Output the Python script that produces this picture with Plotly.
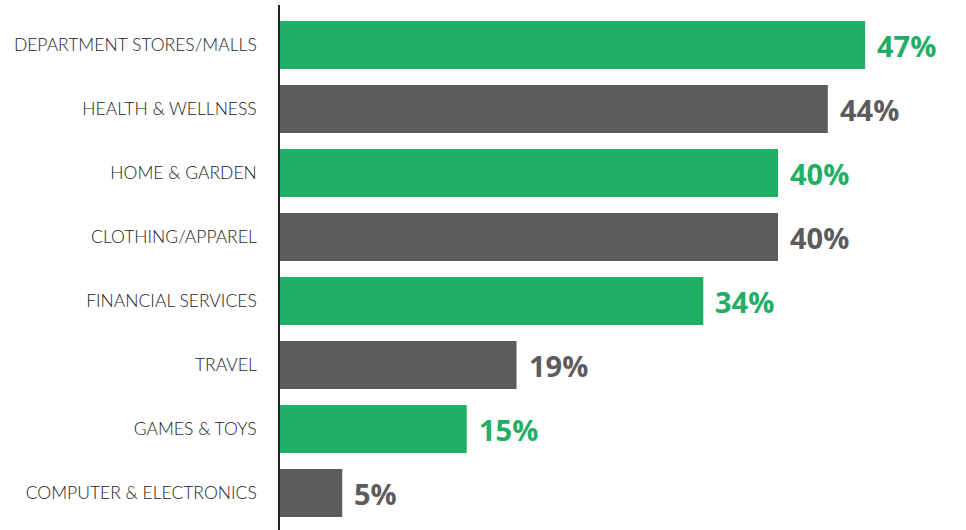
import plotly.graph_objects as go

categories = ["DEPARTMENT STORES/MALLS", "HEALTH & WELLNESS", "HOME & GARDEN",
              "CLOTHING/APPAREL", "FINANCIAL SERVICES", "TRAVEL", "GAMES & TOYS",
              "COMPUTER & ELECTRONICS"]
values = [47, 44, 40, 40, 34, 19, 15, 5]
labels = ["47%", "44%", "40%", "40%", "34%", "19%", "15%", "5%"]

GREEN = "#20AF64"
GRAY = "#5C5C5C"
colors = [GREEN if i % 2 == 0 else GRAY for i in range(len(categories))]

# plot bottom-to-top so first category is at top
cats_r = categories[::-1]
vals_r = values[::-1]
labs_r = labels[::-1]
cols_r = colors[::-1]

fig = go.Figure(go.Bar(
    y=cats_r, x=vals_r, orientation="h",
    marker=dict(color=cols_r, line=dict(width=0)),
    width=0.75, hoverinfo="x+y",
))

for c, v, t, col in zip(cats_r, vals_r, labs_r, cols_r):
    fig.add_annotation(
        x=v, y=c, text=t, showarrow=False, xanchor="left", yanchor="middle",
        xshift=10, yshift=-1,
        font=dict(family="Open Sans", size=29, color=col, weight=700),
    )

fig.update_layout(
    width=966, height=530,
    margin=dict(l=280, r=0, t=5, b=0),
    plot_bgcolor="white", paper_bgcolor="white",
    showlegend=False,
)
fig.update_xaxes(range=[0, 55.1], visible=False)
fig.update_yaxes(
    range=[-0.58, 7.625], showline=True, linecolor="#222222", linewidth=1.5,
    showgrid=False, zeroline=False, ticks="", ticklabelstandoff=18,
    tickfont=dict(family="Lato", size=17.5, color="#222222", weight=300),
)

fig.write_html("out.html")
